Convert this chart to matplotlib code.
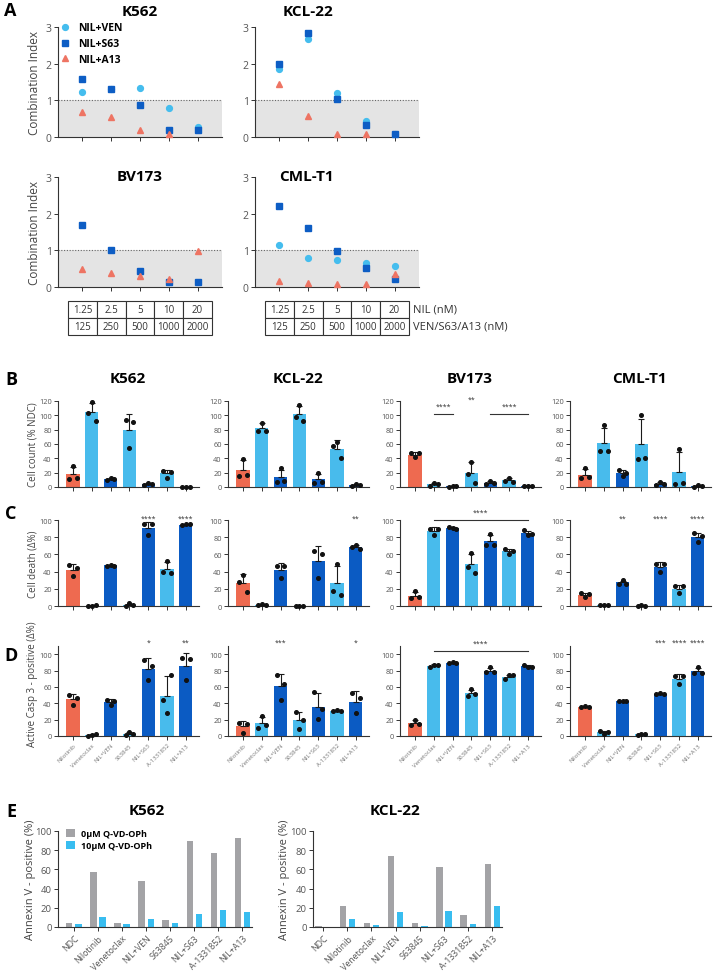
import numpy as np
import matplotlib
matplotlib.use("Agg")
import matplotlib.pyplot as plt

plt.rcParams['font.family'] = ['Open Sans', 'DejaVu Sans']

# ---------------- datos ----------------
# Panel A: combination index (NIL + partner), 5 dosis
nil_doses = ['1.25', '2.5', '5', '10', '20']
partner_doses = ['125', '250', '500', '1000', '2000']
ci_k562_ven = [1.22, 1.30, 1.34, 0.79, 0.28]
ci_k562_s63 = [1.57, 1.30, 0.87, 0.18, 0.18]
ci_k562_a13 = [0.68, 0.55, 0.19, 0.07, np.nan]
ci_kcl_ven = [1.86, 2.68, 1.20, 0.44, 0.08]
ci_kcl_s63 = [2.00, 2.84, 1.03, 0.33, 0.08]
ci_kcl_a13 = [1.45, 0.58, 0.09, 0.09, np.nan]
ci_bv_ven = [np.nan, np.nan, np.nan, np.nan, np.nan]
ci_bv_s63 = [1.70, 1.01, 0.44, 0.14, 0.14]
ci_bv_a13 = [0.48, 0.37, 0.31, 0.22, 0.97]
ci_cml_ven = [1.15, 0.79, 0.75, 0.66, 0.56]
ci_cml_s63 = [2.21, 1.61, 0.99, 0.51, 0.22]
ci_cml_a13 = [0.16, 0.12, 0.07, 0.08, 0.35]

lineas = ['K562', 'KCL-22', 'BV173', 'CML-T1']
tratamientos = ['Nilotinib', 'Venetoclax', 'NIL+VEN', 'S63845', 'NIL+S63', 'A-1331852', 'NIL+A13']
tipo_trat = ['nil', 'bh3', 'combo', 'bh3', 'combo', 'bh3', 'combo']

# Panel B: cell count (% NDC), 3 replicas por barra
b_k562 = [[11, 29, 13], [103, 118, 92], [10, 13, 11], [94, 54, 91], [3, 6, 4], [23, 13, 21], [0, 0, 0]]
b_kcl = [[15, 39, 17], [78, 90, 78], [7, 26, 8], [97, 115, 92], [6, 20, 7], [57, 63, 40], [2, 4, 3]]
b_bv = [[47, 42, 47], [2, 5, 4], [0, 2, 1], [18, 35, 5], [4, 8, 5], [8, 13, 7], [1, 2, 2]]
b_cml = [[12, 26, 14], [50, 86, 50], [24, 16, 20], [39, 100, 41], [3, 7, 4], [4, 53, 6], [0, 3, 1]]

# Panel C: cell death (delta %)
c_k562 = [[48, 35, 44], [0, 0, 1], [47, 48, 47], [0, 3, 1], [95, 82, 95], [40, 52, 38], [94, 95, 95]]
c_kcl = [[28, 36, 16], [1, 2, 1], [47, 33, 47], [0, 0, 0], [64, 32, 61], [18, 49, 13], [69, 71, 66]]
c_bv = [[9, 17, 10], [90, 82, 90], [92, 91, 90], [45, 62, 38], [71, 84, 71], [66, 61, 64], [88, 82, 84]]
c_cml = [[15, 11, 14], [1, 1, 1], [26, 30, 26], [0, 1, 0], [49, 39, 49], [23, 15, 23], [85, 75, 81]]

# Panel D: active caspase 3 positive (delta %)
d_k562 = [[50, 38, 46], [0, 1, 2], [44, 38, 43], [1, 5, 2], [93, 68, 85], [44, 28, 75], [95, 68, 94]]
d_kcl = [[16, 4, 15], [10, 24, 13], [74, 44, 64], [29, 9, 20], [54, 21, 33], [30, 32, 30], [52, 28, 46]]
d_bv = [[14, 20, 15], [84, 87, 87], [89, 90, 89], [49, 57, 51], [78, 84, 78], [70, 74, 74], [87, 84, 84]]
d_cml = [[35, 37, 36], [6, 2, 5], [43, 43, 43], [1, 3, 2], [51, 52, 51], [73, 64, 73], [77, 84, 77]]

# significancia: (barra, texto) y lineas (desde, hasta, texto)
sig_b = [[], [], [(3, '**')], []]
lin_b = [[], [], [(1, 2, '****'), (4, 6, '****')], []]
sig_c = [[(4, '****'), (6, '****')], [(6, '**')], [], [(2, '**'), (4, '****'), (6, '****')]]
lin_c = [[], [], [(1, 6, '****')], []]
sig_d = [[(4, '*'), (6, '**')], [(2, '***'), (6, '*')], [], [(4, '***'), (5, '****'), (6, '****')]]
lin_d = [[], [], [(1, 6, '****')], []]

# Panel E: Annexin V positive (%)
e_labels = ['NDC', 'Nilotinib', 'Venetoclax', 'NIL+VEN', 'S63845', 'NIL+S63', 'A-1331852', 'NIL+A13']
e_k562_0 = [4.5, 57, 4.5, 48, 7, 90, 77, 93]
e_k562_10 = [3, 10, 3.5, 8, 4, 14, 18, 16]
e_kcl_0 = [1.5, 22, 4.5, 74, 4.5, 63, 12.5, 66]
e_kcl_10 = [0.3, 8, 2, 16, 1.2, 17, 3.5, 22]

# ---------------- estilo ----------------
W, H = 717, 979
col = {'nil': '#EE6A50', 'bh3': '#48BBEC', 'combo': '#0B5BC3'}
c_ven, c_s63, c_a13 = '#45BDEE', '#0D5DC4', '#EE7463'
gris_txt = '#555555'

fig = plt.figure(figsize=(W / 100, H / 100), dpi=100)


def caja(l, t, r, b):
    return [l / W, 1 - b / H, (r - l) / W, (b - t) / H]


def texto(x, y, s, **kw):
    fig.text(x / W, 1 - y / H, s, **kw)


def estilo_ejes(ax, fs=6):
    for s in ['top', 'right']:
        ax.spines[s].set_visible(False)
    for s in ['left', 'bottom']:
        ax.spines[s].set_color('#333333')
        ax.spines[s].set_linewidth(0.8)
    ax.tick_params(axis='both', length=3, width=0.7, color='#333333',
                   labelsize=fs, labelcolor=gris_txt, pad=1.5)


# ---------------- Panel A ----------------
datos_a = [(ci_k562_ven, ci_k562_s63, ci_k562_a13),
           (ci_kcl_ven, ci_kcl_s63, ci_kcl_a13),
           (ci_bv_ven, ci_bv_s63, ci_bv_a13),
           (ci_cml_ven, ci_cml_s63, ci_cml_a13)]
cajas_a = [(58, 28, 222, 138), (255, 28, 419, 138), (58, 178, 222, 288), (255, 178, 419, 288)]
titulos_a = [(140, 12), (308, 12), (140, 177), (306, 177)]

for k in range(4):
    ax = fig.add_axes(caja(*cajas_a[k]))
    ven, s63, a13 = datos_a[k]
    x = np.arange(5)
    ax.axhspan(0, 1, color='#e4e4e4', zorder=0, lw=0)
    ax.axhline(1, ls=(0, (1, 1.5)), color='#666666', lw=0.8, zorder=1)
    ax.plot(x, ven, 'o', color=c_ven, ms=4.2, label='NIL+VEN', zorder=3, clip_on=False)
    ax.plot(x, s63, 's', color=c_s63, ms=4.2, label='NIL+S63', zorder=4, clip_on=False)
    ax.plot(x, a13, '^', color=c_a13, ms=4, label='NIL+A13', zorder=5, clip_on=False)
    ax.set_xlim(-0.85, 4.85)
    ax.set_ylim(0, 3)
    ax.set_yticks([0, 1, 2, 3])
    ax.set_xticks(x)
    ax.set_xticklabels([])
    estilo_ejes(ax, fs=7.5)
    texto(titulos_a[k][0], titulos_a[k][1], lineas[k], ha='center', va='center',
          fontsize=11, fontweight='bold')
    if k in (0, 2):
        texto(34, (cajas_a[k][1] + cajas_a[k][3]) / 2, 'Combination Index', rotation=90,
              ha='center', va='center', fontsize=8.5, color='#444444')
    if k == 0:
        ax.legend(loc='upper left', bbox_to_anchor=(0.0, 1.06), frameon=False,
                  handlelength=1.0, handletextpad=0.7, labelspacing=0.45,
                  borderaxespad=0, borderpad=0.2,
                  prop={'weight': 'bold', 'size': 7.5})
    if k >= 2:
        tab = ax.table(cellText=[nil_doses, partner_doses], cellLoc='center',
                       bbox=[0.0614, -0.436, 0.877, 0.309])
        tab.auto_set_font_size(False)
        tab.set_fontsize(7)
        for cel in tab.get_celld().values():
            cel.set_edgecolor('#333333')
            cel.set_linewidth(0.8)
            cel.get_text().set_color('#333333')

texto(413, 310, 'NIL (nM)', ha='left', va='center', fontsize=8, color='#333333')
texto(413, 327, 'VEN/S63/A13 (nM)', ha='left', va='center', fontsize=8, color='#333333')

# ---------------- Paneles B, C, D ----------------
col_x = [58, 228, 400, 570]
ancho = 141
filas = [
    ([b_k562, b_kcl, b_bv, b_cml], (402, 488), (0, 120), range(0, 121, 20), sig_b, lin_b, 'Cell count (% NDC)'),
    ([c_k562, c_kcl, c_bv, c_cml], (521, 607), (0, 100), range(0, 101, 20), sig_c, lin_c, 'Cell death (Δ%)'),
    ([d_k562, d_kcl, d_bv, d_cml], (647, 737), (0, 110), range(0, 101, 20), sig_d, lin_d,
     'Active Casp 3 - positive (Δ%)'),
]
offs = np.array([-0.2, 0.0, 0.2])

for f, (conj, (yt, yb), ylim, yt_ticks, sigs, lins, ylab) in enumerate(filas):
    for k in range(4):
        ax = fig.add_axes(caja(col_x[k], yt, col_x[k] + ancho, yb))
        pts = conj[k]
        x = np.arange(len(pts))
        medias = np.array([np.mean(p) for p in pts])
        sds = np.array([np.std(p, ddof=1) for p in pts])
        ax.bar(x, medias, width=0.7, color=[col[t] for t in tipo_trat], zorder=1, lw=0)
        ax.errorbar(x, medias, yerr=[np.zeros(len(x)), sds], fmt='none', ecolor='#1a1a1a',
                    elinewidth=0.8, capsize=2.3, capthick=0.8, zorder=2)
        for i, p in enumerate(pts):
            ax.plot(i + offs, p, 'o', color='#111111', ms=2.6, zorder=3, clip_on=False)
        ax.set_xlim(-0.8, 6.7)
        ax.set_ylim(*ylim)
        ax.set_yticks(list(yt_ticks))
        ax.set_xticks(x)
        estilo_ejes(ax, fs=5.3)
        if f == 2:
            ax.set_xticklabels(tratamientos, rotation=45, ha='right', rotation_mode='anchor',
                               fontsize=4.3, color='#777777')
        else:
            ax.set_xticklabels([])
        alto = ylim[1]
        for i, s in sigs[k]:
            ax.text(i, alto * 0.985 + (6 if f == 2 else 4), s, ha='center', va='center',
                    fontsize=5, color='#333333', clip_on=False)
        for i0, i1, s in lins[k]:
            yl = alto * 0.85 if f == 0 else (alto if f == 1 else alto * 0.95)
            ax.plot([i0, i1], [yl, yl], color='#333333', lw=0.8, clip_on=False)
            ax.text((i0 + i1) / 2, yl + alto * 0.085, s, ha='center', va='center',
                    fontsize=5, color='#333333', clip_on=False)
        if f == 0:
            texto(col_x[k] + ancho / 2 - 1, 379, lineas[k], ha='center', va='center',
                  fontsize=11, fontweight='bold')
        if k == 0:
            texto(33, (yt + yb) / 2 + (0 if f < 2 else -8), ylab, rotation=90, ha='center',
                  va='center', fontsize=7, color='#444444')

# ---------------- Panel E ----------------
cajas_e = [(58, 832, 252, 928), (313, 832, 502, 928)]
lims_e = [(-0.66, 7.4), (-0.42, 7.4)]
datos_e = [(e_k562_0, e_k562_10), (e_kcl_0, e_kcl_10)]
titulos_e = [(147, 811, 'K562'), (395, 811, 'KCL-22')]
ylab_x = [31, 284]
for k in range(2):
    ax = fig.add_axes(caja(*cajas_e[k]))
    x = np.arange(len(e_labels))
    v0, v10 = datos_e[k]
    ax.bar(x - 0.19, v0, width=0.26, color='#A3A3A6', lw=0, label='0µM Q-VD-OPh')
    ax.bar(x + 0.19, v10, width=0.26, color='#38BDF0', lw=0, label='10µM Q-VD-OPh')
    ax.set_xlim(*lims_e[k])
    ax.set_ylim(0, 100)
    ax.set_yticks(range(0, 101, 20))
    ax.set_xticks(x)
    estilo_ejes(ax, fs=6.8)
    ax.set_xticklabels(e_labels, rotation=45, ha='right', rotation_mode='anchor',
                       fontsize=6.3, color='#555555')
    texto(titulos_e[k][0], titulos_e[k][1], titulos_e[k][2], ha='center', va='center',
          fontsize=11, fontweight='bold')
    texto(ylab_x[k], 880, 'Annexin V - positive (%)', rotation=90, ha='center', va='center',
          fontsize=8, color='#444444')
    if k == 0:
        ax.legend(loc='upper left', bbox_to_anchor=(0.03, 1.04), frameon=False,
                  handlelength=1.0, handleheight=1.0, handletextpad=0.7, labelspacing=0.3,
                  borderaxespad=0, borderpad=0.2, prop={'weight': 'bold', 'size': 6.5})

# letras de panel
for letra, (lx, ly) in zip('ABCDE', [(10, 11), (11, 380), (11, 514), (11, 656), (11, 812)]):
    texto(lx, ly, letra, ha='center', va='center', fontsize=13, fontweight='bold')

fig.savefig('out.png', dpi=100)
